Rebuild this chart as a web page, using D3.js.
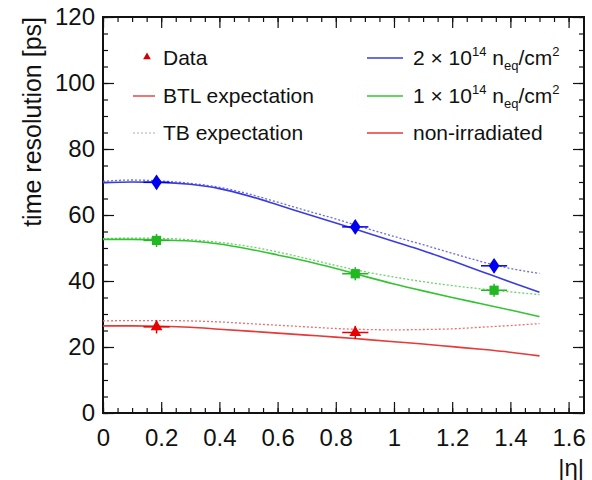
<!DOCTYPE html>
<html>
<head>
<meta charset="utf-8">
<script src="https://cdn.jsdelivr.net/npm/d3@7"></script>
<style>
  body { margin: 0; background: #fff; }
  svg text { font-family: "Liberation Sans", Arial, Helvetica, sans-serif; fill: #111; }
</style>
</head>
<body>
<div id="chart"></div>
<script>
//  Size and margins
var chart_width   = 592;
var chart_height  = 480;
var margin        = { top: 17, right: 8, bottom: 67, left: 103 };
var w             = chart_width - margin.left - margin.right;
var h             = chart_height - margin.top - margin.bottom;

// Expectation curves, sampled in |eta|
var etaGrid   = [0, 0.1, 0.2, 0.3, 0.4, 0.5, 0.6, 0.7, 0.8, 0.9, 1.0, 1.1, 1.2, 1.3, 1.4, 1.5];
var btl2e14   = [69.8, 70.0, 69.9, 69.3, 68.0, 65.8, 63.1, 60.3, 57.6, 54.8, 52.0, 49.2, 46.1, 42.9, 39.7, 36.6];
var tb2e14    = [70.2, 70.6, 70.3, 69.6, 68.4, 66.4, 63.9, 61.3, 58.8, 56.1, 53.5, 51.0, 48.4, 45.9, 43.8, 42.3];
var btl1e14   = [52.6, 52.6, 52.4, 52.1, 51.2, 49.7, 47.9, 46.0, 43.8, 41.4, 39.1, 37.0, 35.0, 33.1, 31.2, 29.2];
var tb1e14    = [52.8, 53.0, 52.9, 52.5, 51.7, 50.5, 48.8, 46.8, 44.7, 42.8, 41.2, 39.8, 38.6, 37.6, 36.7, 35.9];
var btlNonIrr = [26.4, 26.4, 26.3, 26.0, 25.4, 24.8, 24.2, 23.6, 23.0, 22.3, 21.6, 20.9, 20.1, 19.3, 18.4, 17.3];
var tbNonIrr  = [27.9, 28.0, 28.0, 27.9, 27.6, 27.1, 26.6, 26.1, 25.6, 25.3, 25.2, 25.3, 25.5, 26.0, 26.5, 27.1];

// Measured points
var dataEta      = [0.184, 0.867, 1.344];
var dataEtaErr   = [0.045, 0.045, 0.045];
var data2e14     = [69.9, 56.4, 44.6];
var err2e14      = [2, 2, 2];
var data1e14     = [52.3, 42.2, 37.2];
var err1e14      = [2, 2, 2];
var dataNonIrr   = [26.1, 24.4];
var errNonIrr    = [2, 2];

// Axis ticks
var xMajor = [0, 0.2, 0.4, 0.6, 0.8, 1, 1.2, 1.4, 1.6];
var yMajor = [0, 20, 40, 60, 80, 100, 120];

var series = [
    { btl: btl2e14,   tb: tb2e14,   pts: data2e14,   err: err2e14,   line: "#3b3be2", dot: "#6a6ae8", mark: "#0000f0", shape: "diamond" },
    { btl: btl1e14,   tb: tb1e14,   pts: data1e14,   err: err1e14,   line: "#33c433", dot: "#66d466", mark: "#22b822", shape: "square" },
    { btl: btlNonIrr, tb: tbNonIrr, pts: dataNonIrr, err: errNonIrr, line: "#e83838", dot: "#e87070", mark: "#e80000", shape: "triangle" }
];

// Scales
var x = d3.scaleLinear().domain([0, 1.653]).range([0, w]);
var y = d3.scaleLinear().domain([0, 120]).range([h, 0]);

var svg = d3.select("#chart").append("svg")
    .attr("width", chart_width)
    .attr("height", chart_height);

var g = svg.append("g")
    .attr("transform", "translate(" + margin.left + "," + margin.top + ")");

// Axes (ticks inside the frame, on all sides)
function minorTicks(step, max) {
    return d3.range(0, max + 1e-9, step);
}
var xMinor = minorTicks(0.05, 1.65);
var yMinor = minorTicks(5, 120);

g.append("g").attr("transform", "translate(0," + h + ")")
    .call(d3.axisBottom(x).tickValues(xMinor).tickSize(-5).tickFormat(""));
g.append("g").attr("transform", "translate(0," + h + ")")
    .attr("class", "xaxis")
    .call(d3.axisBottom(x).tickValues(xMajor).tickSize(-11).tickPadding(16)
        .tickFormat(d3.format("")));
g.append("g")
    .call(d3.axisTop(x).tickValues(xMinor).tickSize(-5).tickFormat(""));
g.append("g")
    .call(d3.axisTop(x).tickValues(xMajor).tickSize(-11).tickFormat(""));

g.append("g")
    .call(d3.axisLeft(y).tickValues(yMinor).tickSize(-5).tickFormat(""));
g.append("g").attr("class", "yaxis")
    .call(d3.axisLeft(y).tickValues(yMajor).tickSize(-11).tickPadding(8));
g.append("g").attr("transform", "translate(" + w + ",0)")
    .call(d3.axisRight(y).tickValues(yMinor).tickSize(-5).tickFormat(""));
g.append("g").attr("transform", "translate(" + w + ",0)")
    .call(d3.axisRight(y).tickValues(yMajor).tickSize(-11).tickFormat(""));

g.selectAll(".domain").remove();
g.selectAll(".tick line").attr("stroke", "#111").attr("stroke-width", 1.2);
g.selectAll(".xaxis text, .yaxis text")
    .attr("font-size", 24)
    .attr("fill", "#111");

// Frame
g.append("rect")
    .attr("width", w).attr("height", h)
    .attr("fill", "none").attr("stroke", "#111").attr("stroke-width", 2);

// Axis titles
svg.append("text")
    .attr("x", margin.left + w)
    .attr("y", 476)
    .attr("text-anchor", "end")
    .attr("font-size", 24)
    .text("|η|");

svg.append("text")
    .attr("transform", "translate(41," + margin.top + ") rotate(-90)")
    .attr("text-anchor", "end")
    .attr("font-size", 25)
    .text("time resolution [ps]");

// Curves
var line = d3.line()
    .x(function(d, i) { return x(etaGrid[i]); })
    .y(function(d) { return y(d); })
    .curve(d3.curveMonotoneX);

series.forEach(function(s) {
    g.append("path").datum(s.tb)
        .attr("d", line)
        .attr("fill", "none")
        .attr("stroke", s.dot)
        .attr("stroke-width", 1.3)
        .attr("stroke-dasharray", "2,2");
    g.append("path").datum(s.btl)
        .attr("d", line)
        .attr("fill", "none")
        .attr("stroke", s.line)
        .attr("stroke-width", 1.6);
});

// Markers
var symbols = {
    diamond:  d3.symbol().type(d3.symbolDiamond).size(100),
    square:   d3.symbol().type(d3.symbolSquare).size(85),
    triangle: d3.symbol().type(d3.symbolTriangle).size(60)
};

series.forEach(function(s) {
    var pts = s.pts.map(function(v, i) {
        return { eta: dataEta[i], ex: dataEtaErr[i], v: v, e: s.err[i] };
    });
    var pg = g.append("g");
    pg.selectAll(".hbar").data(pts).enter().append("line")
        .attr("x1", function(d) { return x(d.eta - d.ex); })
        .attr("x2", function(d) { return x(d.eta + d.ex); })
        .attr("y1", function(d) { return y(d.v); })
        .attr("y2", function(d) { return y(d.v); })
        .attr("stroke", s.mark).attr("stroke-width", 1.5);
    pg.selectAll(".vbar").data(pts).enter().append("line")
        .attr("x1", function(d) { return x(d.eta); })
        .attr("x2", function(d) { return x(d.eta); })
        .attr("y1", function(d) { return y(d.v - d.e); })
        .attr("y2", function(d) { return y(d.v + d.e); })
        .attr("stroke", s.mark).attr("stroke-width", 1.5);
    pg.selectAll(".mark").data(pts).enter().append("path")
        .attr("d", symbols[s.shape])
        .attr("transform", function(d) {
            return "translate(" + x(d.eta) + "," + y(d.v) + ")" + (s.shape === "diamond" ? " scale(1,0.85)" : "");
        })
        .attr("fill", s.mark);
});

// Legend
var legendLeft = [
    { label: "Data", kind: "marker" },
    { label: "BTL expectation", kind: "solid" },
    { label: "TB expectation", kind: "dotted" }
];
var legendRight = [
    { base: "2 × 10", color: series[0].line },
    { base: "1 × 10", color: series[1].line },
    { base: "non-irradiated", color: series[2].line }
];
var rowY = [58, 96, 133];

var lg = svg.append("g");
legendLeft.forEach(function(d, i) {
    if (d.kind === "marker") {
        lg.append("path")
            .attr("d", d3.symbol().type(d3.symbolTriangle).size(26))
            .attr("transform", "translate(147," + (rowY[i] - 1) + ")")
            .attr("fill", "#d00000");
    } else {
        lg.append("line")
            .attr("x1", 133).attr("x2", 155)
            .attr("y1", rowY[i]).attr("y2", rowY[i])
            .attr("stroke", d.kind === "solid" ? "#e83838" : "#c9a3ab")
            .attr("stroke-width", d.kind === "solid" ? 1.4 : 1.2)
            .attr("stroke-dasharray", d.kind === "solid" ? null : "2,2");
    }
    lg.append("text")
        .attr("x", 163).attr("y", rowY[i] + 7)
        .attr("font-size", 21)
        .text(d.label);
});

legendRight.forEach(function(d, i) {
    lg.append("line")
        .attr("x1", 367).attr("x2", 403)
        .attr("y1", rowY[i]).attr("y2", rowY[i])
        .attr("stroke", d.color).attr("stroke-width", 1.4);
    var t = lg.append("text")
        .attr("x", 413).attr("y", rowY[i] + 7)
        .attr("font-size", 21);
    t.append("tspan").text(d.base);
    if (i < 2) {
        t.append("tspan").attr("font-size", 13).attr("dy", -9).text("14");
        t.append("tspan").attr("dy", 9).text(" n");
        t.append("tspan").attr("font-size", 13).attr("dy", 5).text("eq");
        t.append("tspan").attr("dy", -5).text("/cm");
        t.append("tspan").attr("font-size", 13).attr("dy", -9).text("2");
    }
});
</script>
</body>
</html>
